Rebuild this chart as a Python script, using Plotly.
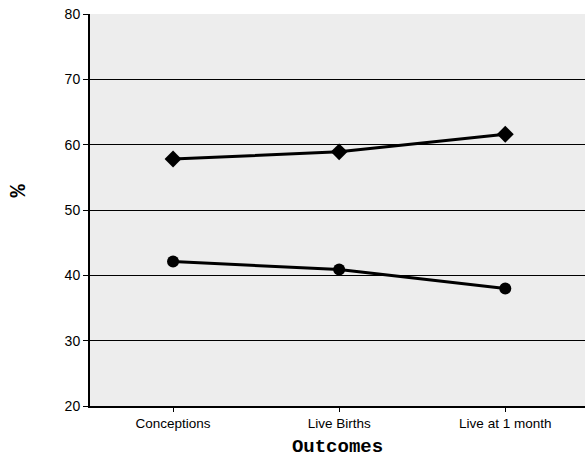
import plotly.graph_objects as go

categories = ["Conceptions", "Live Births", "Live at 1 month"]
series_upper = [57.8, 58.9, 61.6]
series_lower = [42.1, 40.9, 38.0]
y_ticks = [20, 30, 40, 50, 60, 70, 80]

fig = go.Figure()
fig.add_trace(go.Scatter(
    x=[0, 1, 2], y=series_upper, mode="lines+markers",
    line=dict(color="black", width=3),
    marker=dict(symbol="diamond", size=13, color="black"),
    showlegend=False, cliponaxis=False))
fig.add_trace(go.Scatter(
    x=[0, 1, 2], y=series_lower, mode="lines+markers",
    line=dict(color="black", width=3),
    marker=dict(symbol="circle", size=12, color="black"),
    showlegend=False, cliponaxis=False))

fig.update_layout(
    width=585, height=458,
    margin=dict(l=90, r=0, t=14, b=52),
    paper_bgcolor="white",
    plot_bgcolor="#ededed",
    font=dict(family="Liberation Sans, Arial", size=12, color="black"),
)
fig.add_annotation(
    text="<b>%</b>", xref="paper", yref="paper", x=-0.143, y=0.55,
    xanchor="center", yanchor="middle", showarrow=False, textangle=-90,
    font=dict(family="Liberation Mono, Courier New", size=22, color="black"))
fig.update_xaxes(
    range=[-0.5, 2.48],
    tickmode="array", tickvals=[0, 1, 2], ticktext=categories,
    showgrid=False, showline=True, linecolor="black", linewidth=2,
    ticks="outside", ticklen=4, tickcolor="black",
    tickson="boundaries",
    tickfont=dict(size=13.5),
    title=dict(text="<b>Outcomes</b>", font=dict(family="Liberation Mono, Courier New", size=19), standoff=8),
    zeroline=False,
)
fig.update_yaxes(
    range=[20, 80],
    tickmode="array", tickvals=y_ticks,
    showgrid=True, gridcolor="black", gridwidth=1,
    showline=True, linecolor="black", linewidth=2,
    ticks="outside", ticklen=5, tickcolor="black",
    tickfont=dict(size=14),
    zeroline=False,
)

fig.write_html("out.html")
